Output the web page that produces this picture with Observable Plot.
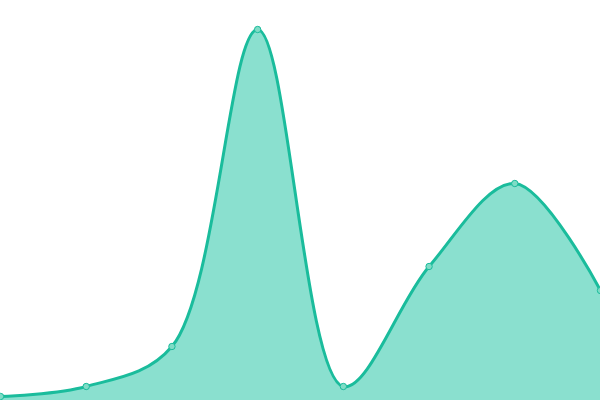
<!DOCTYPE html>
<html>
<head>
<meta charset="utf-8">
<script src="https://cdn.jsdelivr.net/npm/d3@7"></script>
<script src="https://cdn.jsdelivr.net/npm/@observablehq/plot@0.6"></script>
<style>
  html, body { margin: 0; padding: 0; background: #fff; }
</style>
</head>
<body>
<div id="chart"></div>
<script>
const categories = [0, 1, 2, 3, 4, 5, 6, 7];
const values = [4, 14, 54, 371, 14, 134, 217, 110];

const data = categories.map((c, i) => ({x: c, y: values[i]}));

const chart = Plot.plot({
  width: 600,
  height: 400,
  margin: 0,
  x: {domain: [0, 7], axis: null},
  y: {domain: [0, 400], axis: null},
  marks: [
    Plot.areaY(data, {x: "x", y: "y", curve: "catmull-rom", fill: "#8ae0cf"}),
    Plot.lineY(data, {x: "x", y: "y", curve: "catmull-rom", stroke: "#1abc9c", strokeWidth: 3}),
    Plot.dot(data, {x: "x", y: "y", r: 3.2, fill: "#7fdcc6", stroke: "#1abc9c", strokeWidth: 1})
  ]
});
document.getElementById("chart").appendChild(chart);
</script>
</body>
</html>
